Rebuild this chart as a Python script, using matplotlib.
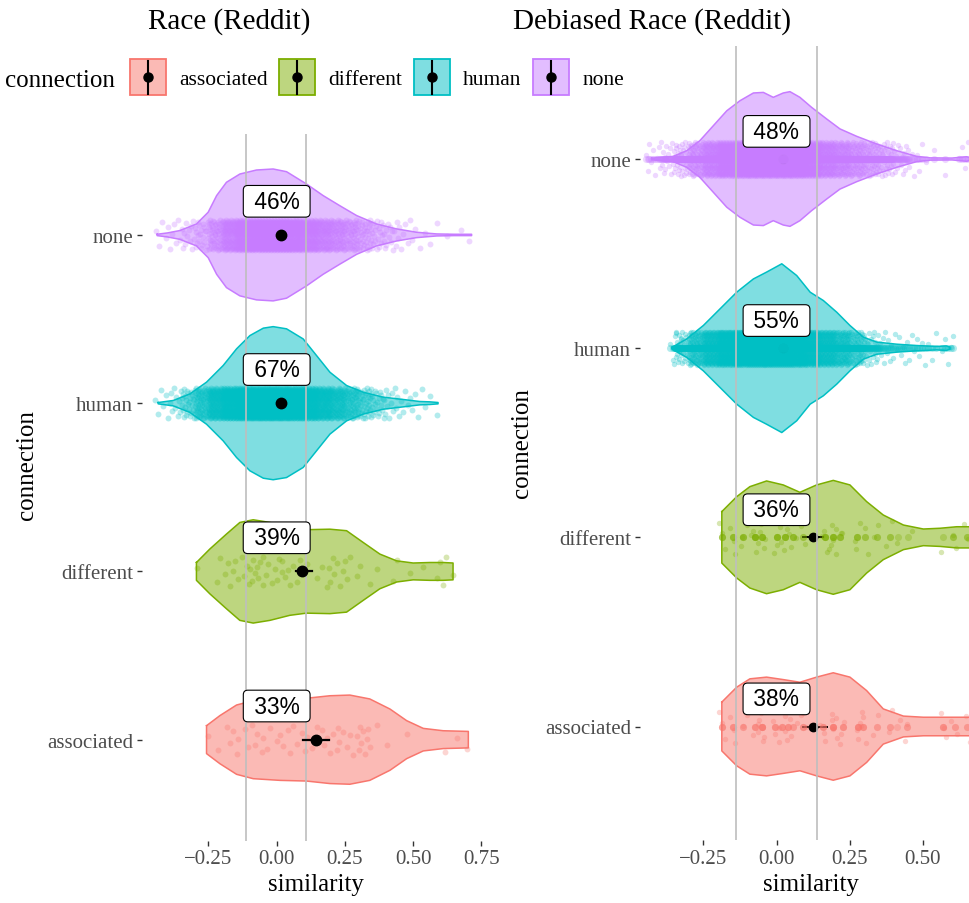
import numpy as np
import matplotlib
matplotlib.use("Agg")
import matplotlib.pyplot as plt
from matplotlib.colors import to_rgba
from matplotlib.patches import Rectangle

# ---- data ----
categories = ["associated", "different", "human", "none"]
colors = ["#F8766D", "#7CAE00", "#00BFC4", "#C77CFF"]

# violin outlines: similarity values and half widths (category units)
RACE_ASSOC_X = [-0.257, -0.208, -0.147, -0.086, 0.012, 0.109, 0.195, 0.268, 0.341, 0.415, 0.476, 0.537, 0.610, 0.702]
RACE_ASSOC_W = [0.083, 0.143, 0.206, 0.232, 0.242, 0.246, 0.261, 0.265, 0.242, 0.182, 0.113, 0.067, 0.053, 0.049]
RACE_DIFF_X = [-0.294, -0.245, -0.184, -0.135, -0.086, -0.025, 0.048, 0.109, 0.195, 0.256, 0.317, 0.378, 0.439, 0.500, 0.561, 0.610, 0.646]
RACE_DIFF_W = [0.053, 0.133, 0.222, 0.291, 0.307, 0.291, 0.261, 0.248, 0.251, 0.242, 0.172, 0.103, 0.063, 0.050, 0.053, 0.053, 0.050]
RACE_HUMAN_X = [-0.434, -0.379, -0.318, -0.257, -0.196, -0.147, -0.098, -0.049, -0.013, 0.036, 0.097, 0.146, 0.195, 0.256, 0.317, 0.390, 0.463, 0.524, 0.560, 0.591]
RACE_HUMAN_W = [0.004, 0.016, 0.055, 0.125, 0.224, 0.323, 0.402, 0.446, 0.455, 0.442, 0.382, 0.283, 0.184, 0.105, 0.065, 0.036, 0.022, 0.010, 0.008, 0.004]
RACE_NONE_X = [-0.438, -0.400, -0.355, -0.294, -0.251, -0.220, -0.184, -0.135, -0.074, -0.013, 0.036, 0.109, 0.170, 0.231, 0.293, 0.366, 0.439, 0.512, 0.586, 0.650, 0.714]
RACE_NONE_W = [0.004, 0.012, 0.026, 0.065, 0.135, 0.234, 0.313, 0.362, 0.386, 0.392, 0.376, 0.303, 0.234, 0.174, 0.115, 0.065, 0.036, 0.016, 0.006, 0.004, 0.004]

DEB_ASSOC_X = [-0.187, -0.136, -0.091, -0.034, 0.023, 0.080, 0.137, 0.194, 0.251, 0.308, 0.365, 0.434, 0.502, 0.582, 0.680]
DEB_ASSOC_W = [0.129, 0.208, 0.252, 0.261, 0.248, 0.234, 0.261, 0.284, 0.261, 0.190, 0.093, 0.055, 0.049, 0.049, 0.049]
DEB_DIFF_X = [-0.187, -0.136, -0.091, -0.034, 0.023, 0.080, 0.137, 0.194, 0.251, 0.308, 0.365, 0.434, 0.502, 0.559, 0.616, 0.680]
DEB_DIFF_W = [0.136, 0.215, 0.268, 0.298, 0.277, 0.238, 0.277, 0.301, 0.277, 0.189, 0.118, 0.065, 0.044, 0.048, 0.056, 0.056]
DEB_HUMAN_X = [-0.358, -0.307, -0.250, -0.193, -0.136, -0.079, -0.034, 0.018, 0.069, 0.115, 0.160, 0.206, 0.251, 0.297, 0.343, 0.411, 0.479, 0.548, 0.580, 0.593]
DEB_HUMAN_W = [0.004, 0.049, 0.120, 0.208, 0.296, 0.366, 0.402, 0.446, 0.384, 0.296, 0.252, 0.190, 0.120, 0.058, 0.032, 0.021, 0.014, 0.009, 0.012, 0.006]
DEB_NONE_X = [-0.427, -0.353, -0.307, -0.262, -0.216, -0.170, -0.125, -0.079, -0.045, -0.011, 0.023, 0.046, 0.080, 0.120, 0.172, 0.217, 0.274, 0.343, 0.411, 0.479, 0.525, 0.600, 0.650, 0.665]
DEB_NONE_W = [0.004, 0.014, 0.044, 0.097, 0.176, 0.255, 0.308, 0.349, 0.352, 0.326, 0.349, 0.356, 0.326, 0.273, 0.211, 0.159, 0.120, 0.079, 0.044, 0.014, 0.006, 0.005, 0.012, 0.006]

# individual word pairs (sparse groups)
RACE_ASSOC_PTS = [-0.250, -0.214, -0.183, -0.171, -0.159, -0.147, -0.140, -0.116, -0.104, -0.090, -0.080,
                  -0.073, -0.055, -0.049, -0.037, -0.025, 0.000, 0.012, 0.024, 0.040, 0.049, 0.061, 0.073,
                  0.092, 0.104, 0.110, 0.128, 0.147, 0.150, 0.165, 0.175, 0.183, 0.195, 0.208, 0.220, 0.226,
                  0.230, 0.244, 0.256, 0.269, 0.281, 0.293, 0.300, 0.305, 0.310, 0.317, 0.323, 0.330, 0.336,
                  0.342, 0.366, 0.403, 0.476, 0.617, 0.659, 0.696]
RACE_DIFF_PTS = [-0.293, -0.220, -0.208, -0.189, -0.177, -0.171, -0.160, -0.153, -0.141, -0.128, -0.120,
                 -0.110, -0.100, -0.098, -0.090, -0.086, -0.080, -0.073, -0.070, -0.061, -0.050, -0.049,
                 -0.040, -0.031, -0.018, -0.006, 0.000, 0.010, 0.018, 0.020, 0.031, 0.043, 0.049, 0.061,
                 0.073, 0.085, 0.098, 0.110, 0.147, 0.165, 0.183, 0.190, 0.195, 0.208, 0.210, 0.220, 0.232,
                 0.244, 0.250, 0.256, 0.269, 0.293, 0.305, 0.342, 0.366, 0.427, 0.439, 0.488, 0.537, 0.586,
                 0.600, 0.610, 0.620, 0.647]
DEB_ASSOC_VALS = [-0.187, -0.148, -0.113, -0.074, -0.051, -0.005, 0.018, 0.040, 0.057, 0.092, 0.160,
                  0.194, 0.228, 0.280, 0.297, 0.343, 0.388, 0.411, 0.445, 0.570, 0.610, 0.650]
DEB_ASSOC_COUNTS = [3, 3, 2, 3, 5, 3, 3, 3, 2, 3, 3, 5, 3, 4, 3, 2, 2, 1, 2, 3, 2, 2]
DEB_DIFF_VALS = [-0.187, -0.148, -0.114, -0.074, -0.051, 0.001, 0.029, 0.057, 0.092, 0.166, 0.194,
                 0.217, 0.274, 0.303, 0.343, 0.388, 0.416, 0.451, 0.570, 0.604, 0.650]
DEB_DIFF_COUNTS = [3, 3, 3, 5, 4, 4, 4, 3, 2, 4, 4, 3, 3, 2, 2, 2, 1, 1, 1, 2, 2]

# dense groups: counts per 0.05 wide similarity bin
RACE_HUMAN_BINS = [-0.425, -0.375, -0.325, -0.275, -0.225, -0.175, -0.125, -0.075, -0.025, 0.025, 0.075,
                   0.125, 0.175, 0.225, 0.275, 0.325, 0.375, 0.425, 0.475, 0.525, 0.575]
RACE_HUMAN_COUNTS = [5, 10, 28, 65, 120, 180, 225, 245, 255, 245, 215, 170, 125, 90, 60, 36, 20, 10, 6, 4, 2]
RACE_NONE_BINS = [-0.425, -0.375, -0.325, -0.275, -0.225, -0.175, -0.125, -0.075, -0.025, 0.025, 0.075,
                  0.125, 0.175, 0.225, 0.275, 0.325, 0.375, 0.425, 0.475, 0.525, 0.575, 0.625, 0.675, 0.705]
RACE_NONE_COUNTS = [4, 7, 12, 22, 55, 110, 160, 180, 190, 185, 165, 135, 100, 75, 55, 35, 20, 12, 6, 3, 2, 1, 1, 1]
DEB_HUMAN_BINS = [-0.345, -0.325, -0.275, -0.225, -0.175, -0.125, -0.075, -0.025, 0.025, 0.075, 0.125,
                  0.175, 0.225, 0.275, 0.325, 0.375, 0.425, 0.475, 0.525, 0.585]
DEB_HUMAN_COUNTS = [5, 30, 85, 150, 225, 275, 300, 315, 305, 255, 195, 150, 105, 60, 22, 10, 7, 6, 4, 5]
DEB_NONE_BINS = [-0.425, -0.375, -0.325, -0.275, -0.225, -0.175, -0.125, -0.075, -0.025, 0.025, 0.075,
                 0.125, 0.175, 0.225, 0.275, 0.325, 0.375, 0.425, 0.475, 0.525, 0.575, 0.625, 0.655]
DEB_NONE_COUNTS = [8, 16, 35, 75, 135, 195, 240, 260, 255, 260, 245, 195, 140, 105, 75, 50, 30, 15, 6, 2, 1, 1, 5]

# group means with confidence intervals, threshold band, share labels
RACE_MEAN = [0.144, 0.094, 0.016, 0.016]
RACE_LO = [0.097, 0.069, 0.010, 0.010]
RACE_HI = [0.191, 0.128, 0.022, 0.022]
DEB_MEAN = [0.126, 0.126, 0.021, 0.021]
DEB_LO = [0.092, 0.092, 0.018, 0.018]
DEB_HI = [0.171, 0.160, 0.024, 0.024]
RACE_BAND = [-0.113, 0.107]
DEB_BAND = [-0.139, 0.139]
RACE_PCT = ["33%", "39%", "67%", "46%"]
DEB_PCT = ["38%", "36%", "55%", "48%"]

# fixed jitter pattern (vertical spread of the points)
JITTER = [0.021, -0.064, 0.078, -0.017, 0.049, -0.086, 0.004, 0.063, -0.045, 0.088, -0.030, 0.035,
          -0.075, 0.012, -0.055, 0.070, -0.008, 0.028, -0.038, 0.056, -0.081, 0.083, -0.024, 0.042,
          -0.069, 0.016, -0.050, 0.074, -0.003, 0.059, -0.034, 0.008, -0.078, 0.032, -0.060, 0.067,
          -0.013, 0.046, -0.041, 0.025, -0.090]
XJITTER = [0.0, 0.010, -0.008, 0.004, -0.012, 0.007, -0.003, 0.012, -0.006]

SERIF = ['Liberation Serif', 'DejaVu Serif']
SANS = ['Liberation Sans', 'DejaVu Sans']
plt.rcParams['font.family'] = SERIF
plt.rcParams['axes.unicode_minus'] = True

W, H = 970, 904
fig = plt.figure(figsize=(W / 100, H / 100), dpi=100)


def frac(x, y):
    return x / W, 1 - y / H


def bins_to_x(centers, counts, width=0.05):
    xs = []
    for c, n in zip(centers, counts):
        xs.extend(c - width / 2 + (np.arange(n) + 0.5) / n * width)
    return np.array(xs)


def vals_to_x(vals, counts):
    return np.repeat(vals, counts)


def jit(n, pattern=JITTER):
    return np.array(pattern)[np.arange(n) % len(pattern)]


def draw_violin(ax, pos, xs, ws, color):
    xs = np.asarray(xs)
    ws = np.asarray(ws)
    ax.fill_between(xs, pos - ws, pos + ws, facecolor=to_rgba(color, 0.5),
                    edgecolor='none', zorder=1)
    ox = np.concatenate([xs, xs[::-1], xs[:1]])
    oy = np.concatenate([pos + ws, (pos - ws)[::-1], [pos + ws[0]]])
    ax.plot(ox, oy, color=color, lw=1.1, zorder=2, solid_joinstyle='round')


def pct_label(ax, y, text):
    ax.text(0, y, " %s " % text, ha='center', va='center', fontsize=16.4,
            family=SANS, zorder=7,
            bbox=dict(boxstyle='round,pad=0.19,rounding_size=0.2', fc='white', ec='black', lw=0.8))


def style_axis(ax, xlim, xticks):
    ax.set_xlim(*xlim)
    ax.set_ylim(0.4, 4.6)
    ax.set_yticks(range(1, 5))
    ax.set_yticklabels(categories)
    ax.set_xticks(xticks)
    ax.set_xticklabels(["\u22120.25" if t < 0 else "%.2f" % t for t in xticks])
    for s in ax.spines.values():
        s.set_visible(False)
    ax.tick_params(axis='both', length=3.3, width=1.0, color='#333333',
                   labelcolor='#4D4D4D', labelsize=15, pad=3)
    ax.set_facecolor('none')


# ---- left panel: Race (Reddit) ----
l0, t0 = frac(142, 841.6)
l1, t1 = frac(489, 135)
axL = fig.add_axes([l0, t0, l1 - l0, t1 - t0])
race_violins = [(RACE_ASSOC_X, RACE_ASSOC_W), (RACE_DIFF_X, RACE_DIFF_W),
                (RACE_HUMAN_X, RACE_HUMAN_W), (RACE_NONE_X, RACE_NONE_W)]
race_points = [np.array(RACE_ASSOC_PTS), np.array(RACE_DIFF_PTS),
               bins_to_x(RACE_HUMAN_BINS, RACE_HUMAN_COUNTS),
               bins_to_x(RACE_NONE_BINS, RACE_NONE_COUNTS)]
for i, ((vx, vw), px) in enumerate(zip(race_violins, race_points)):
    pos = i + 1
    draw_violin(axL, pos, vx, vw, colors[i])
    axL.scatter(px, pos + jit(len(px)), s=18, color=colors[i], alpha=0.3,
                linewidths=0, zorder=3)
for b in RACE_BAND:
    axL.axvline(b, color='#BEBEBE', lw=1.2, zorder=5)
for i in range(4):
    pos = i + 1
    axL.plot([RACE_LO[i], RACE_HI[i]], [pos, pos], color='black', lw=1.6, zorder=6)
    axL.plot(RACE_MEAN[i], pos, 'o', color='black', ms=7.5, zorder=6)
    pct_label(axL, pos + 0.2, RACE_PCT[i])
style_axis(axL, (-0.4934, 0.7777), [-0.25, 0.0, 0.25, 0.5, 0.75])

# ---- right panel: Debiased Race (Reddit) ----
r0, b0 = frac(640, 841)
r1, b1 = frac(970, 46.5)
axR = fig.add_axes([r0, b0, r1 - r0, b1 - b0])
deb_violins = [(DEB_ASSOC_X, DEB_ASSOC_W), (DEB_DIFF_X, DEB_DIFF_W),
               (DEB_HUMAN_X, DEB_HUMAN_W), (DEB_NONE_X, DEB_NONE_W)]
deb_points = [vals_to_x(DEB_ASSOC_VALS, DEB_ASSOC_COUNTS),
              vals_to_x(DEB_DIFF_VALS, DEB_DIFF_COUNTS),
              bins_to_x(DEB_HUMAN_BINS, DEB_HUMAN_COUNTS),
              bins_to_x(DEB_NONE_BINS, DEB_NONE_COUNTS)]
for i, ((vx, vw), px) in enumerate(zip(deb_violins, deb_points)):
    pos = i + 1
    draw_violin(axR, pos, vx, vw, colors[i])
    axR.plot([DEB_LO[i], DEB_HI[i]], [pos, pos], color='black', lw=1.4, zorder=3)
    axR.plot(DEB_MEAN[i], pos, 'o', color='black', ms=6, zorder=3)
    xj = jit(len(px), XJITTER) if i < 2 else 0.0
    axR.scatter(px, np.full(len(px), pos), s=26, color=colors[i], alpha=0.3,
                linewidths=0, zorder=4)
    axR.scatter(px + xj, pos + jit(len(px)), s=15, color=colors[i], alpha=0.3,
                linewidths=0, zorder=4)
for b in DEB_BAND:
    axR.axvline(b, color='#BEBEBE', lw=1.2, zorder=5)
for i in range(4):
    pct_label(axR, i + 1 + 0.146, DEB_PCT[i])
style_axis(axR, (-0.4667, 0.6615), [-0.25, 0.0, 0.25, 0.5])

# ---- titles and axis titles ----
fig.text(*frac(148, 29), "Race (Reddit)", fontsize=21, ha='left', va='baseline')
fig.text(*frac(513, 29), "Debiased Race (Reddit)", fontsize=21, ha='left', va='baseline')
fig.text(*frac(315.5, 891), "similarity", fontsize=18, ha='center', va='baseline')
fig.text(*frac(811, 891), "similarity", fontsize=18, ha='center', va='baseline')
fig.text(*frac(27, 465), "connection", fontsize=18, ha='center', va='center', rotation=90)
fig.text(*frac(522, 443), "connection", fontsize=18, ha='center', va='center', rotation=90)

# ---- legend ----
lax = fig.add_axes([0, 0, 1, 1])
lax.set_xlim(0, W)
lax.set_ylim(H, 0)
lax.axis('off')
key_x = [130, 279.3, 414.3, 533]
lab_x = [179, 328, 463, 583]
lax.text(5, 86.7, "connection", fontsize=18, ha='left', va='baseline')
for i in range(4):
    lax.add_patch(Rectangle((key_x[i], 60), 35.7, 35.7, facecolor=to_rgba(colors[i], 0.5),
                            edgecolor=colors[i], lw=1.3))
    lax.plot([key_x[i] + 17.85, key_x[i] + 17.85], [61.5, 94.5], color='black', lw=1.5)
    lax.plot(key_x[i] + 17.85, 78, 'o', color='black', ms=6.5)
    lax.text(lab_x[i], 85, categories[i], fontsize=15.5, ha='left', va='baseline')

fig.savefig("out.png", dpi=100)
